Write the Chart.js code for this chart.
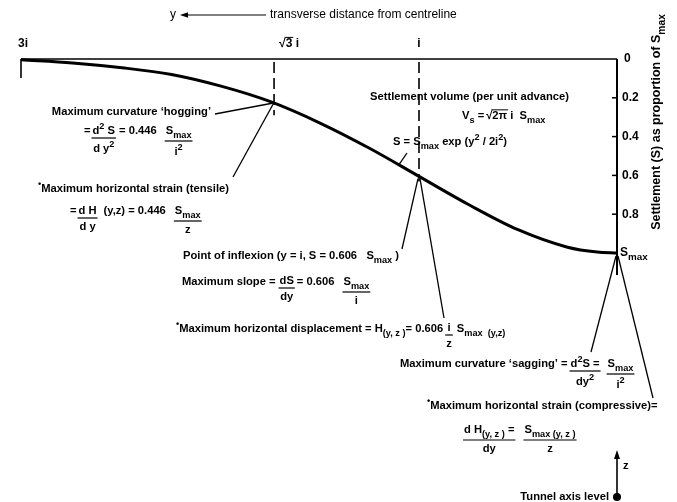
<!DOCTYPE html>
<html>
<head>
<meta charset="utf-8">
<script src="https://cdn.jsdelivr.net/npm/chart.js@4.4.1/dist/chart.umd.min.js"></script>
<style>
  html, body { margin: 0; padding: 0; background: #fff; }
  #wrap { width: 677px; height: 502px; position: relative; }
</style>
</head>
<body>
<div id="wrap"><canvas id="chart"></canvas></div>
<script>
// transverse distance from centreline, in multiples of i
const distance = [0, 0.1, 0.25, 0.5, 0.75, 1, 1.25, 1.5, 1.75, 2, 2.25, 2.5, 2.75, 3.01];
const settlement = [1, 0.995, 0.97, 0.88, 0.75, 0.605, 0.46, 0.33, 0.22, 0.14, 0.08, 0.045, 0.02, 0.004];

const xTickValues = [3, 1.732, 1];
const yTickValues = [0, 0.2, 0.4, 0.6, 0.8];
const yTickLabels = ['0', '0.2', '0.4', '0.6', '0.8'];

// marked points on the curve: [distance, settlement]
const hogPoint = [1.732, 0.223];
const inflexPoint = [1, 0.606];
const maxPoint = [0, 1];

const FACE = '"Liberation Sans", Arial, sans-serif';
const SZ = 11.2;
const SMAX = ['S', ['max', 'sub']];
const SQ = ['2', 'sup'];

function setFont(ctx, size, weight) {
  ctx.font = (weight || 'bold') + ' ' + size + 'px ' + FACE;
}

// parts: plain strings or [text, 'sub'|'sup']
function runWidth(ctx, parts, size) {
  size = size || SZ;
  let w = 0;
  parts.forEach(p => {
    const [t, k] = Array.isArray(p) ? p : [p, ''];
    setFont(ctx, k ? size * 0.82 : size);
    w += ctx.measureText(t).width;
  });
  return w;
}
function run(ctx, x, y, parts, size) {
  size = size || SZ;
  parts.forEach(p => {
    const [t, k] = Array.isArray(p) ? p : [p, ''];
    setFont(ctx, k ? size * 0.82 : size);
    const dy = k === 'sub' ? size * 0.38 : k === 'sup' ? -size * 0.38 : 0;
    ctx.fillText(t, x, y + dy);
    x += ctx.measureText(t).width;
  });
  return x;
}
function seg(ctx, x1, y1, x2, y2, w) {
  ctx.beginPath();
  ctx.lineWidth = w || 1.3;
  ctx.moveTo(x1, y1);
  ctx.lineTo(x2, y2);
  ctx.stroke();
}
const has = (parts, kind) => parts.some(p => Array.isArray(p) && p[1] === kind);
// numerator / bar / denominator, left edge at x; returns right edge
function frac(ctx, x, y, num, den) {
  const wn = runWidth(ctx, num), wd = runWidth(ctx, den);
  const w = Math.max(wn, wd) + 2;
  const cx = x + w / 2;
  const bar = has(num, 'sub') ? 10 : 7;
  run(ctx, cx - wn / 2, y, num);
  seg(ctx, x, y + bar, x + w, y + bar, 1.2);
  run(ctx, cx - wd / 2, y + bar + (has(den, 'sup') ? 10.5 : 8.5), den);
  return x + w;
}
// radical sign with a bar over its argument
function root(ctx, x, y, arg, size) {
  size = size || SZ;
  setFont(ctx, size);
  ctx.fillText('√', x, y);
  const w1 = ctx.measureText('√').width;
  const w2 = ctx.measureText(arg).width;
  ctx.fillText(arg, x + w1, y);
  seg(ctx, x + w1 - 1, y - size * 0.55, x + w1 + w2 + 1, y - size * 0.55, 1);
  return x + w1 + w2;
}
// a formula line: items are {t: parts}, {n, d} fractions, {r: arg} roots, {s: gap}
function formula(ctx, x, y, items) {
  items.forEach(it => {
    if (it.t) x = run(ctx, x, y, it.t);
    else if (it.n) x = frac(ctx, x, y - (it.up || 0), it.n, it.d);
    else if (it.r) x = root(ctx, x, y, it.r);
    else if (it.s) x += it.s;
  });
  return x;
}

const annotate = {
  id: 'annotate',
  afterDatasetsDraw(chart) {
    const ctx = chart.ctx;
    const xs = chart.scales.x, ys = chart.scales.y;
    const X = v => xs.getPixelForValue(v), Y = v => ys.getPixelForValue(v);
    const top = Y(0), right = X(0), left = X(xs.max);

    ctx.save();
    ctx.fillStyle = '#000';
    ctx.strokeStyle = '#000';
    ctx.textBaseline = 'middle';
    ctx.textAlign = 'left';

    // heading
    setFont(ctx, 12, 'normal');
    ctx.fillText('y', 170, 15);
    seg(ctx, 182, 15, 266, 15, 1.2);
    ctx.beginPath();
    ctx.moveTo(180, 15); ctx.lineTo(188, 12.3); ctx.lineTo(188, 17.7); ctx.closePath(); ctx.fill();
    ctx.fillText('transverse distance from centreline', 270, 15);

    // axes
    seg(ctx, left, top, right, top, 1.6);
    seg(ctx, left, top, left, top + 19, 1.6);
    seg(ctx, right, top, right, Y(1) + 22, 2);
    yTickValues.forEach((v, k) => {
      if (v > 0) seg(ctx, right - 5, Y(v), right, Y(v), 1.5);
      setFont(ctx, 12);
      ctx.fillText(yTickLabels[k], right + (v === 0 ? 7 : 5), Y(v));
    });
    run(ctx, right + 3, Y(1), SMAX, 12);

    // x tick labels
    setFont(ctx, 12);
    ctx.textAlign = 'center';
    ctx.fillText('3i', X(xTickValues[0]), 44);
    ctx.fillText('i', X(xTickValues[2]), 44);
    ctx.textAlign = 'left';
    const r3 = root(ctx, X(xTickValues[1]) + 5, 44, '3', 12);
    setFont(ctx, 12);
    ctx.fillText(' i', r3, 44);

    // dashed verticals
    ctx.save();
    ctx.setLineDash([11, 5]);
    seg(ctx, X(hogPoint[0]), top + 3, X(hogPoint[0]), Y(hogPoint[1]) + 13, 1.6);
    seg(ctx, X(inflexPoint[0]), top + 3, X(inflexPoint[0]), Y(inflexPoint[1]) + 5, 1.6);
    ctx.restore();

    // y-axis title
    ctx.save();
    ctx.translate(657, 122);
    ctx.rotate(-Math.PI / 2);
    const title = ['Settlement (S) as proportion of S', ['max', 'sub']];
    const tw = runWidth(ctx, title, 12.5);
    run(ctx, -tw / 2, 0, title, 12.5);
    ctx.restore();

    const hx = X(hogPoint[0]), hy = Y(hogPoint[1]);
    const ix = X(inflexPoint[0]), iy = Y(inflexPoint[1]);
    const mx = X(maxPoint[0]), my = Y(maxPoint[1]);

    // hogging
    setFont(ctx, SZ);
    ctx.textAlign = 'right';
    ctx.fillText('Maximum curvature \u2018hogging\u2019', 211, 112);
    ctx.textAlign = 'left';
    seg(ctx, 215, 114, hx - 2, hy + 1);
    formula(ctx, 84, 131, [
      { t: ['='] }, { s: 1 }, { n: ['d', SQ, ' S'], d: ['d y', SQ] }, { s: 3 },
      { t: ['= 0.446'] }, { s: 8 }, { n: SMAX, d: ['i', SQ] }
    ]);

    // tensile strain
    seg(ctx, hx - 1, hy + 2, 233, 177);
    run(ctx, 38, 189, [['•', 'sup'], 'Maximum horizontal strain (tensile)']);
    formula(ctx, 70, 211, [
      { t: ['='] }, { s: 1 }, { n: ['d H'], d: ['d y'] }, { s: 6 },
      { t: ['(y,z) = 0.446'] }, { s: 8 }, { n: SMAX, d: ['z'] }
    ]);

    // settlement volume and trough equation
    run(ctx, 370, 97, ['Settlement volume (per unit advance)']);
    formula(ctx, 462, 116, [{ t: ['V', ['s', 'sub'], ' ='] }, { s: 2 }, { r: '2π' }, { t: [' i  ', ...SMAX] }]);
    run(ctx, 393, 142, ['S = ', ...SMAX, ' exp (y', SQ, ' / 2i', SQ, ')']);
    seg(ctx, 407, 153, 399, Y(0.545));

    // point of inflexion
    seg(ctx, ix - 1, iy + 2, 402, 249);
    seg(ctx, ix + 1, iy + 2, 444, 318);
    run(ctx, 183, 256, ['Point of inflexion (y = i, S = 0.606   ', ...SMAX, ' )']);
    formula(ctx, 182, 282, [
      { t: ['Maximum slope ='] }, { s: 3 }, { n: ['dS'], d: ['dy'], up: 1 }, { s: 2 },
      { t: ['= 0.606'] }, { s: 8 }, { n: SMAX, d: ['i'] }
    ]);

    // horizontal displacement
    formula(ctx, 176, 329, [
      { t: [['•', 'sup'], 'Maximum horizontal displacement = H', ['(y, z )', 'sub'], '= 0.606'] }, { s: 2 },
      { n: ['i'], d: ['z'], up: 1 }, { s: 4 }, { t: [...SMAX, ['  (y,z)', 'sub']] }
    ]);

    // sagging at centreline
    seg(ctx, mx - 1, my + 3, 591, 352);
    seg(ctx, mx + 1, my + 3, 653, 398);
    formula(ctx, 400, 364, [
      { t: ['Maximum curvature \u2018sagging\u2019 ='] }, { s: 2 }, { n: ['d', SQ, 'S ='], d: ['dy', SQ] }, { s: 6 },
      { n: SMAX, d: ['i', SQ] }
    ]);

    // compressive strain
    run(ctx, 427, 406, [['•', 'sup'], 'Maximum horizontal strain (compressive)=']);
    formula(ctx, 463, 430, [
      { n: ['d H', ['(y, z )', 'sub'], ' ='], d: ['dy'] }, { s: 8 },
      { n: ['S', ['max (y, z )', 'sub']], d: ['z'] }
    ]);

    // tunnel axis
    seg(ctx, mx, 497, mx, 458, 1.6);
    ctx.beginPath();
    ctx.moveTo(mx, 450); ctx.lineTo(mx - 3, 459); ctx.lineTo(mx + 3, 459); ctx.closePath(); ctx.fill();
    run(ctx, mx + 6, 466, ['z']);
    ctx.beginPath();
    ctx.arc(mx, 497, 4, 0, Math.PI * 2);
    ctx.fill();
    setFont(ctx, SZ);
    ctx.textAlign = 'right';
    ctx.fillText('Tunnel axis level', mx - 8, 497);

    ctx.restore();
  }
};

new Chart(document.getElementById('chart'), {
  type: 'line',
  data: {
    datasets: [{
      data: distance.map((d, k) => ({ x: d, y: settlement[k] })),
      borderColor: '#000',
      borderWidth: 3,
      pointRadius: 0,
      cubicInterpolationMode: 'monotone',
      fill: false,
      clip: 6
    }]
  },
  options: {
    responsive: true,
    maintainAspectRatio: false,
    animation: false,
    layout: { padding: { left: 21, right: 60, top: 59, bottom: 249 } },
    plugins: { legend: { display: false }, tooltip: { enabled: false } },
    scales: {
      x: { type: 'linear', reverse: true, min: 0, max: 3.01, display: false },
      y: { type: 'linear', reverse: true, min: 0, max: 1, display: false }
    }
  },
  plugins: [annotate]
});
</script>
</body>
</html>
